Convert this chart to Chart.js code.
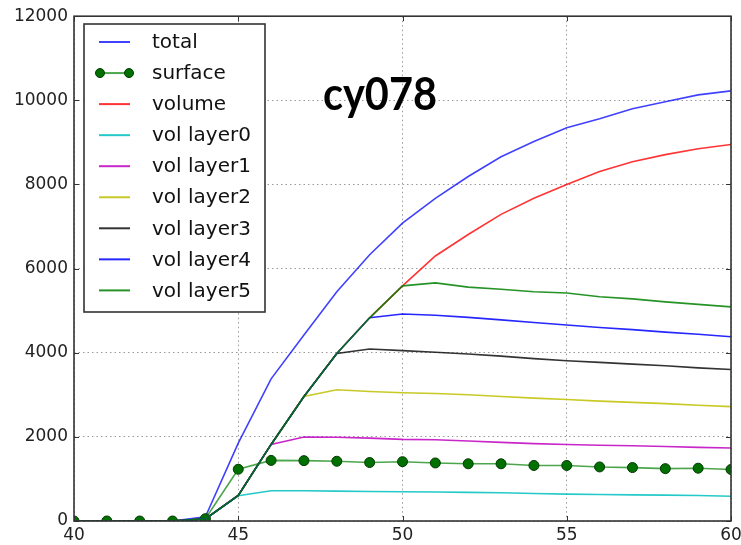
<!DOCTYPE html>
<html>
<head>
<meta charset="utf-8">
<script src="https://cdn.jsdelivr.net/npm/chart.js@4/dist/chart.umd.min.js"></script>
<style>
  html, body { margin: 0; padding: 0; background: #fff; overflow: hidden; }
  #wrap { position: absolute; left: 0; top: 0; width: 760px; height: 545px; }
</style>
</head>
<body>
<div id="wrap"><canvas id="grafico" width="760" height="545"></canvas></div>
<script>
// eixo x (passos)
const passos = [40, 41, 42, 43, 44, 45, 46, 47, 48, 49, 50, 51, 52, 53, 54, 55, 56, 57, 58, 59, 60];

// séries
const total   = [0, 0, 0, 0, 100, 1850, 3380, 4420, 5450, 6330, 7080, 7670, 8190, 8660, 9020, 9350, 9560, 9800, 9965, 10130, 10225];
const surface = [0, 0, 0, 0, 55, 1230, 1440, 1435, 1420, 1390, 1410, 1380, 1360, 1360, 1320, 1320, 1285, 1270, 1245, 1255, 1225];
const volume  = [0, 0, 0, 0, 50, 610, 1820, 2960, 3980, 4830, 5590, 6300, 6810, 7290, 7670, 8000, 8310, 8540, 8710, 8850, 8950];
const layer0  = [0, 0, 0, 0, 50, 600, 720, 720, 710, 700, 695, 690, 680, 670, 655, 640, 630, 620, 615, 605, 590];
const layer1  = [0, 0, 0, 0, 50, 610, 1820, 1995, 1990, 1970, 1940, 1930, 1900, 1870, 1840, 1820, 1800, 1790, 1770, 1750, 1735];
const layer2  = [0, 0, 0, 0, 50, 610, 1820, 2960, 3120, 3080, 3050, 3030, 3000, 2960, 2920, 2890, 2850, 2820, 2790, 2750, 2720];
const layer3  = [0, 0, 0, 0, 50, 610, 1820, 2960, 3980, 4090, 4050, 4010, 3970, 3920, 3860, 3810, 3770, 3730, 3690, 3640, 3600];
const layer4  = [0, 0, 0, 0, 50, 610, 1820, 2960, 3980, 4830, 4920, 4890, 4840, 4780, 4720, 4660, 4600, 4550, 4490, 4440, 4380];
const layer5  = [0, 0, 0, 0, 50, 610, 1820, 2960, 3980, 4830, 5590, 5660, 5560, 5510, 5450, 5420, 5330, 5280, 5210, 5150, 5090];

const nomes = ["total", "surface", "volume", "vol layer0", "vol layer1", "vol layer2", "vol layer3", "vol layer4", "vol layer5"];
const series = [total, surface, volume, layer0, layer1, layer2, layer3, layer4, layer5];
const cores = [
  "rgba(0,0,255,0.75)",
  "rgba(0,128,0,0.7)",
  "rgba(255,0,0,0.8)",
  "rgba(0,191,191,0.85)",
  "rgba(191,0,191,0.85)",
  "rgba(191,191,0,0.85)",
  "rgba(0,0,0,0.8)",
  "rgba(0,0,255,0.85)",
  "rgba(0,128,0,0.85)"
];

const titulo = "cy078";
const fonteEixo = "'DejaVu Sans', sans-serif";

const datasets = series.map((s, i) => ({
  label: nomes[i],
  data: s.map((v, j) => ({ x: passos[j], y: v })),
  borderColor: cores[i],
  backgroundColor: cores[i],
  borderWidth: 1.6,
  pointRadius: i === 1 ? 5 : 0,
  pointBackgroundColor: "#007000",
  pointBorderColor: "#003a00",
  pointBorderWidth: 1,
  tension: 0,
  fill: false,
  order: series.length - 1 - i
}));

// moldura, ticks internos, titulo e legenda desenhados por cima
const extras = {
  id: "extras",
  afterDraw(chart) {
    const c = chart.ctx;
    const a = chart.chartArea;
    const sx = chart.scales.x, sy = chart.scales.y;
    c.save();

    // ticks internos
    c.strokeStyle = "#333";
    c.lineWidth = 1;
    sx.ticks.forEach(t => {
      const px = Math.round(sx.getPixelForValue(t.value)) + 0.5;
      c.beginPath();
      c.moveTo(px, a.bottom); c.lineTo(px, a.bottom - 5);
      c.moveTo(px, a.top); c.lineTo(px, a.top + 5);
      c.stroke();
    });
    sy.ticks.forEach(t => {
      const py = Math.round(sy.getPixelForValue(t.value)) + 0.5;
      c.beginPath();
      c.moveTo(a.left, py); c.lineTo(a.left + 5, py);
      c.moveTo(a.right, py); c.lineTo(a.right - 5, py);
      c.stroke();
    });

    // moldura
    c.strokeStyle = "#333";
    c.lineWidth = 1.6;
    c.strokeRect(a.left, a.top, a.right - a.left, a.bottom - a.top);

    // titulo
    c.fillStyle = "#000";
    c.font = "bold 46px Lato, 'Open Sans', sans-serif";
    c.textBaseline = "alphabetic";
    c.textAlign = "left";
    const w = c.measureText(titulo).width;
    c.save();
    c.translate(323, 110);
    c.scale(114 / w, 1);
    c.fillText(titulo, 0, 0);
    c.restore();

    // legenda
    const bx = 84, by = 24, bw = 181, bh = 288;
    c.fillStyle = "#fff";
    c.fillRect(bx, by, bw, bh);
    c.strokeStyle = "#333";
    c.lineWidth = 1.6;
    c.strokeRect(bx, by, bw, bh);
    c.font = "20px " + fonteEixo;
    c.textBaseline = "middle";
    chart.data.datasets.forEach((d, i) => {
      const y = 42 + i * 31.05;
      c.strokeStyle = d.borderColor;
      c.lineWidth = 2;
      c.beginPath();
      c.moveTo(99, y); c.lineTo(130, y);
      c.stroke();
      if (d.pointRadius > 0) {
        [100, 129].forEach(px => {
          c.beginPath();
          c.arc(px, y, 4.5, 0, Math.PI * 2);
          c.fillStyle = d.pointBackgroundColor;
          c.fill();
          c.strokeStyle = d.pointBorderColor;
          c.lineWidth = 1;
          c.stroke();
        });
      }
      c.fillStyle = "#111";
      c.fillText(d.label, 152, y + 1);
    });

    c.restore();
  }
};

const ctx = document.getElementById("grafico").getContext("2d");

const grafico = new Chart(ctx, {
  type: "line",
  data: { datasets: datasets },
  options: {
    responsive: false,
    animation: false,
    layout: { padding: { top: 14, right: 29, left: 0, bottom: 0 } },
    plugins: {
      legend: { display: false },
      tooltip: { enabled: false }
    },
    scales: {
      x: {
        type: "linear",
        min: 40, max: 60,
        border: { display: false, dash: [1.5, 3] },
        grid: { color: "#9a9a9a", lineWidth: 1, drawTicks: false },
        ticks: {
          stepSize: 5, padding: 4, color: "#222", maxRotation: 0,
          font: { family: fonteEixo, size: 17 },
          callback: v => String(v)
        },
        afterFit: s => { s.height = 24; }
      },
      y: {
        min: 0, max: 12000,
        border: { display: false, dash: [1.5, 3] },
        grid: { color: "#9a9a9a", lineWidth: 1, drawTicks: false },
        ticks: {
          stepSize: 2000, padding: 6, color: "#222",
          font: { family: fonteEixo, size: 17 },
          callback: v => String(v)
        },
        afterFit: s => { s.width = 74; }
      }
    }
  },
  plugins: [extras]
});
</script>
</body>
</html>
